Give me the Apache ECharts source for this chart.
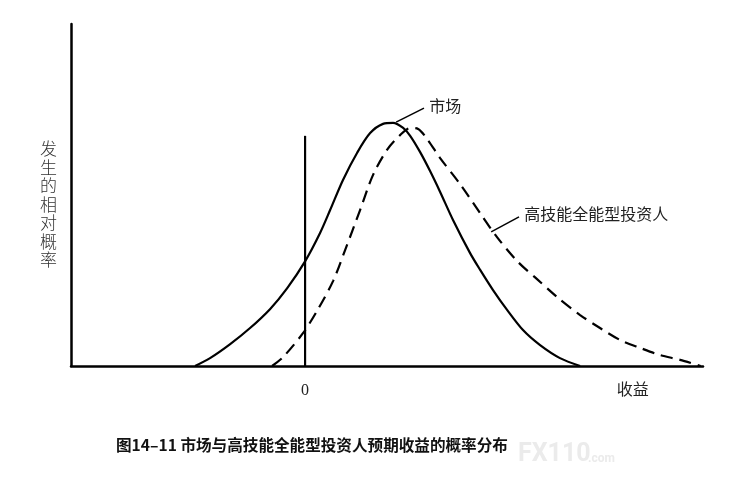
<!DOCTYPE html>
<html>
<head>
<meta charset="utf-8">
<script src="https://cdn.jsdelivr.net/npm/echarts@6/dist/echarts.min.js"></script>
<style>
html,body{margin:0;padding:0;background:#fff;}
#c{width:738px;height:479px;}
</style>
</head>
<body>
<div id="c"></div>
<script>
// x: 收益 (arbitrary units, 0 = zero-return line); y: 发生的相对概率
var marketX = [-47.0, -40.6, -32.0, -23.5, -14.9, -7.7, 0, 6.4, 10.7, 16.2, 22.2, 27.8, 33.3, 37.6, 41.9, 44.9, 49.1, 53.4, 57.7, 63.2, 70.5, 74.8, 80.3, 86.3, 93.1, 100.4, 108.9, 117.5];
var marketY = [0, 2.3, 6.4, 11.1, 16.7, 22.7, 30.6, 38.9, 45.6, 54.4, 62.3, 68.1, 70.8, 71.1, 69.6, 67.3, 62.6, 57.0, 50.9, 42.7, 33.0, 28.1, 22.2, 16.4, 10.5, 6.1, 2.3, 0];
var skilledX = [-14.1, -9.4, -0.9, 5.1, 12.0, 17.1, 23.5, 29.0, 35.0, 40.6, 44.9, 48.3, 52.1, 57.7, 66.2, 74.8, 82.0, 91.0, 99.1, 107.6, 117.5, 126.0, 134.6, 143.1, 151.6, 160.2, 169];
var skilledY = [0, 2.6, 9.6, 16.1, 24.9, 33.9, 45.6, 55.8, 63.2, 67.5, 69.6, 69.3, 66.4, 60.8, 53.2, 44.7, 37.7, 30.4, 25.4, 20.2, 14.9, 11.1, 7.6, 5.3, 3.2, 1.8, 0];
var zeroLineX = [0, 0];
var zeroLineY = [0, 67.3];
var tickLabels = {0: '0', 140: '收益'};
var seriesNames = ['市场', '高技能全能型投资人'];
var yName = '发生的相对概率';
var titleText = '图14–11 市场与高技能全能型投资人预期收益的概率分布';

function pairs(xs, ys){ return xs.map(function(x,i){ return [x, ys[i]]; }); }

var chart = echarts.init(document.getElementById('c'));
var cjk = '"Noto Sans CJK SC", sans-serif';
chart.setOption({
  animation: false,
  grid: {left: 71, right: 35, top: 24, bottom: 113},
  title: {
    text: titleText, left: 111, top: 432,
    textStyle: {fontFamily: cjk, fontSize: 15.6, fontWeight: 'bold', color: '#111'}
  },
  graphic: [{
    type: 'text', left: 518, top: 442, z: -1,
    style: {text: 'FX110', fill: '#ebebeb', font: 'bold 25px "Roboto", sans-serif'}
  },{
    type: 'text', left: 588, top: 453, z: -1,
    style: {text: '.com', fill: '#ebebeb', font: 'bold 12px "Roboto", sans-serif'}
  }],
  xAxis: {
    type: 'value', min: -100, max: 170, interval: 10,
    splitLine: {show: false},
    axisTick: {show: false},
    axisLine: {lineStyle: {color: '#000', width: 2.5}},
    axisLabel: {
      margin: 17, color: '#222', fontSize: 16, fontFamily: '"Liberation Serif", ' + cjk,
      formatter: function(v){ return tickLabels[v] || ''; }
    }
  },
  yAxis: {
    type: 'value', min: 0, max: 100,
    splitLine: {show: false},
    axisTick: {show: false},
    axisLabel: {show: false},
    axisLine: {show: true, onZero: false, lineStyle: {color: '#000', width: 2.5}},
    name: '\n' + yName.split('').join('\n'),
    nameLocation: 'middle', nameRotate: 0, nameGap: 14,
    nameTextStyle: {fontFamily: cjk, fontSize: 17, lineHeight: 18.5, color: '#333', fontWeight: 300}
  },
  series: [{
    type: 'line', name: seriesNames[0], data: pairs(marketX, marketY),
    smooth: 0.3, showSymbol: false, symbol: 'none',
    lineStyle: {color: '#000', width: 2.2},
    markLine: {
      silent: true, symbol: 'none',
      lineStyle: {color: '#000', width: 1.5, type: 'solid'},
      label: {position: 'end', formatter: seriesNames[0], fontFamily: cjk, fontSize: 16, color: '#222', distance: 6},
      data: [[{coord: [38.9, 71.3]}, {coord: [50.8, 75.4]}]]
    }
  },{
    type: 'line', name: seriesNames[1], data: pairs(skilledX, skilledY),
    smooth: 0.3, showSymbol: false, symbol: 'none',
    lineStyle: {color: '#000', width: 2.2, type: [12, 7]},
    markLine: {
      silent: true, symbol: 'none',
      lineStyle: {color: '#000', width: 1.5, type: 'solid'},
      label: {position: 'end', formatter: seriesNames[1], fontFamily: cjk, fontSize: 16, color: '#222', distance: 6},
      data: [[{coord: [79.5, 39.2]}, {coord: [91.4, 43.6]}]]
    }
  },{
    type: 'line', name: 'zero', data: pairs(zeroLineX, zeroLineY),
    showSymbol: false, symbol: 'none',
    lineStyle: {color: '#000', width: 2.2}
  }]
});
</script>
</body>
</html>
